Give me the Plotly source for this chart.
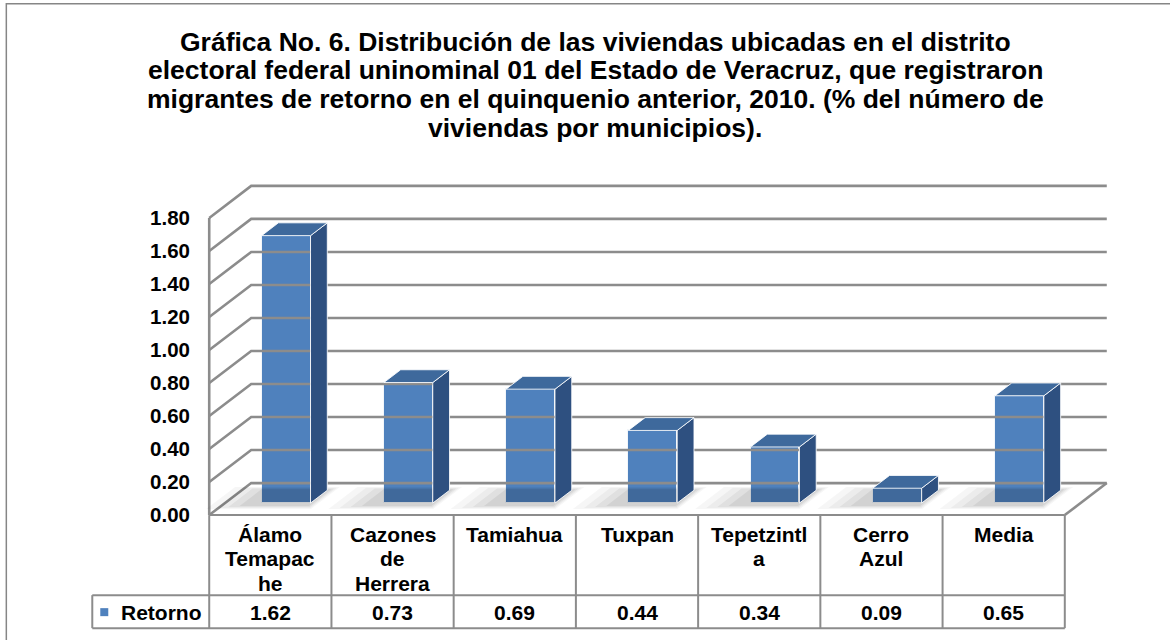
import plotly.graph_objects as go

# ---------------- data ----------------
categories = ["Álamo Temapache", "Cazones de Herrera", "Tamiahua", "Tuxpan",
              "Tepetzintla", "Cerro Azul", "Media"]
table_label_lines = [["Álamo", "Temapac", "he"], ["Cazones", "de", "Herrera"],
                     ["Tamiahua"], ["Tuxpan"], ["Tepetzintl", "a"],
                     ["Cerro", "Azul"], ["Media"]]
series_name = "Retorno"
retorno = [1.62, 0.73, 0.69, 0.44, 0.34, 0.09, 0.65]
y_tick_values = [0.0, 0.2, 0.4, 0.6, 0.8, 1.0, 1.2, 1.4, 1.6, 1.8]
title_lines = [
    "Gráfica No. 6. Distribución de las viviendas ubicadas en el distrito",
    "electoral federal uninominal 01 del Estado de Veracruz, que registraron",
    "migrantes de retorno en el quinquenio anterior, 2010. (% del número de",
    "viviendas por municipios).",
]

# ---------------- geometry / style ----------------
W, H = 1170, 640
FONT = "Arial, 'Liberation Sans', sans-serif"
N = len(categories)
X0_PX, XN_PX = 209, 1065          # front floor edge
CW = (XN_PX - X0_PX) / N          # px per category
UNIT = 165.0                      # px per 1.0 value
Y0_PX = 515                       # front floor edge (value 0)
DEPTH_X_PX, DEPTH_Y_PX = 42, 32
DXU = DEPTH_X_PX / CW             # depth offset in x data units
DYU = DEPTH_Y_PX / UNIT           # depth offset in y data units
YTOP = y_tick_values[-1]
PAD_X, PAD_Y = 0.1, 0.06
xr = [-PAD_X, N + DXU + PAD_X]
yr = [-PAD_Y, YTOP + DYU + PAD_Y]
L = X0_PX - PAD_X * CW
R = L + (xr[1] - xr[0]) * CW
B = Y0_PX + PAD_Y * UNIT
T = B - (yr[1] - yr[0]) * UNIT


def xp(px):
    return (px - L) / (R - L)


def yp(py):
    return (B - py) / (B - T)


GRID = "#8c8c8c"
FRONT = "#4F81BD"
TOP = "#3E699C"
SIDE = "#2E5080"
EDGE = "rgba(255,255,255,0.85)"
D0 = 0.375    # depth where bar front face sits
DD = 0.40     # bar depth
BW = 0.40     # bar width (category units)

fig = go.Figure()

# ---------------- walls / gridlines ----------------
gx, gy = [], []
for v in y_tick_values:
    gx += [0, DXU, N + DXU, None]
    gy += [v, v + DYU, v + DYU, None]
gx += [0, 0, None, N, N + DXU, None]
gy += [0, YTOP, None, 0, DYU, None]
fig.add_trace(go.Scatter(x=gx, y=gy, mode="lines",
                         line=dict(color=GRID, width=2.6),
                         hoverinfo="skip", showlegend=False))

# ---------------- floor shadows ----------------
for grow, alpha in [(0.34, 0.035), (0.26, 0.04), (0.18, 0.05), (0.10, 0.06)]:
    sx, sy = [], []
    for i, v in enumerate(retorno):
        cx = i + 0.5
        xl = cx - BW / 2 - grow - 0.05
        xrr = cx + BW / 2 + grow * 0.2
        da, db = D0 - 0.05 - grow * 0.4, D0 + DD + grow * 0.3
        pts = [(xl + da * DXU, da * DYU), (xrr + da * DXU, da * DYU),
               (xrr + db * DXU, db * DYU), (xl + db * DXU, db * DYU)]
        sx += [p[0] for p in pts] + [pts[0][0], None]
        sy += [p[1] for p in pts] + [pts[0][1], None]
    fig.add_trace(go.Scatter(x=sx, y=sy, mode="lines", fill="toself",
                             fillcolor=f"rgba(0,0,0,{alpha})",
                             line=dict(width=0), hoverinfo="skip",
                             showlegend=False))

# ---------------- 3D bars ----------------
centers = [i + 0.5 for i in range(N)]
base = D0 * DYU
side_x, side_y, top_x, top_y = [], [], [], []
for c, v in zip(centers, retorno):
    xl = c - BW / 2 + D0 * DXU
    xrr = c + BW / 2 + D0 * DXU
    ddx, ddy = DD * DXU, DD * DYU
    side = [(xrr, base), (xrr + ddx, base + ddy), (xrr + ddx, base + v + ddy), (xrr, base + v)]
    top = [(xl, base + v), (xrr, base + v), (xrr + ddx, base + v + ddy), (xl + ddx, base + v + ddy)]
    side_x += [p[0] for p in side] + [side[0][0], None]
    side_y += [p[1] for p in side] + [side[0][1], None]
    top_x += [p[0] for p in top] + [top[0][0], None]
    top_y += [p[1] for p in top] + [top[0][1], None]

fig.add_trace(go.Scatter(x=side_x, y=side_y, mode="lines", fill="toself",
                         fillcolor=SIDE, line=dict(color=EDGE, width=1),
                         hoverinfo="skip", showlegend=False))
fig.add_trace(go.Scatter(x=top_x, y=top_y, mode="lines", fill="toself",
                         fillcolor=TOP, line=dict(color=EDGE, width=1),
                         hoverinfo="skip", showlegend=False))
fig.add_trace(go.Bar(x=[c + D0 * DXU for c in centers], y=retorno, base=base,
                     width=BW, name=series_name,
                     marker=dict(color=FRONT, line=dict(color=EDGE, width=1)),
                     showlegend=False, hovertext=categories))

# ---------------- data table below ----------------
shapes = []
TBL = dict(color=GRID, width=2)
ROW1_BOTTOM, ROW2_BOTTOM, TABLE_LEFT = 595, 628, 92
shapes.append(dict(type="line", xref="paper", yref="paper",
                   x0=xp(X0_PX), x1=xp(XN_PX), y0=yp(Y0_PX), y1=yp(Y0_PX), line=TBL))
for py in (ROW1_BOTTOM, ROW2_BOTTOM):
    shapes.append(dict(type="line", xref="paper", yref="paper",
                       x0=xp(TABLE_LEFT), x1=xp(XN_PX), y0=yp(py), y1=yp(py), line=TBL))
shapes.append(dict(type="line", xref="paper", yref="paper",
                   x0=xp(TABLE_LEFT), x1=xp(TABLE_LEFT), y0=yp(ROW1_BOTTOM),
                   y1=yp(ROW2_BOTTOM), line=TBL))
for i in range(N + 1):
    px = X0_PX + i * CW
    shapes.append(dict(type="line", xref="paper", yref="paper",
                       x0=xp(px), x1=xp(px), y0=yp(Y0_PX), y1=yp(ROW2_BOTTOM), line=TBL))
shapes.append(dict(type="rect", xref="paper", yref="paper",
                   x0=xp(100), x1=xp(108), y0=yp(608), y1=yp(616),
                   fillcolor=FRONT, line=dict(width=0)))
shapes.append(dict(type="rect", xref="paper", yref="paper",
                   x0=xp(6), x1=xp(W + 10), y0=yp(4), y1=yp(H + 10),
                   line=dict(color="#868686", width=1.5), fillcolor="rgba(0,0,0,0)",
                   layer="below"))

annotations = []
TXT = dict(family=FONT, size=21, color="black", weight="bold")
for i, lines in enumerate(table_label_lines):
    cxp = X0_PX + (i + 0.5) * CW
    for j, line in enumerate(lines):
        annotations.append(dict(text=line, xref="paper", yref="paper",
                                x=xp(cxp), y=yp(534 + 24.5 * j), xanchor="center",
                                yanchor="middle", showarrow=False, font=TXT))
    annotations.append(dict(text=f"{retorno[i]:.2f}", xref="paper", yref="paper",
                            x=xp(cxp), y=yp(612), xanchor="center", yanchor="middle",
                            showarrow=False, font=TXT))
annotations.append(dict(text=series_name, xref="paper", yref="paper",
                        x=xp(161), y=yp(612), xanchor="center", yanchor="middle",
                        showarrow=False, font=TXT))
TTL = dict(family=FONT, size=26.5, color="black", weight="bold")
for k, line in enumerate(title_lines):
    annotations.append(dict(text=line, xref="paper", yref="paper",
                            x=xp(595), y=yp(42 + 28.6 * k), xanchor="center",
                            yanchor="middle", showarrow=False, font=TTL))

fig.update_layout(
    width=W, height=H,
    margin=dict(l=L, r=W - R, t=T, b=H - B, pad=0),
    paper_bgcolor="white", plot_bgcolor="white",
    xaxis=dict(range=xr, showgrid=False, zeroline=False, showline=False,
               showticklabels=False, ticks="", fixedrange=True),
    yaxis=dict(range=yr, showgrid=False, zeroline=False, showline=False,
               tickvals=y_tick_values, tickformat=".2f", ticks="",
               ticklabelstandoff=6, fixedrange=True,
               tickfont=dict(family=FONT, size=20.5, color="black", weight="bold")),
    shapes=shapes, annotations=annotations,
    bargap=0, showlegend=False,
)

fig.write_html("out.html",
               config={"displayModeBar": False},
               post_script="document.body.style.margin='0';"
                           "document.body.style.padding='0';"
                           "document.body.style.overflow='hidden';")
